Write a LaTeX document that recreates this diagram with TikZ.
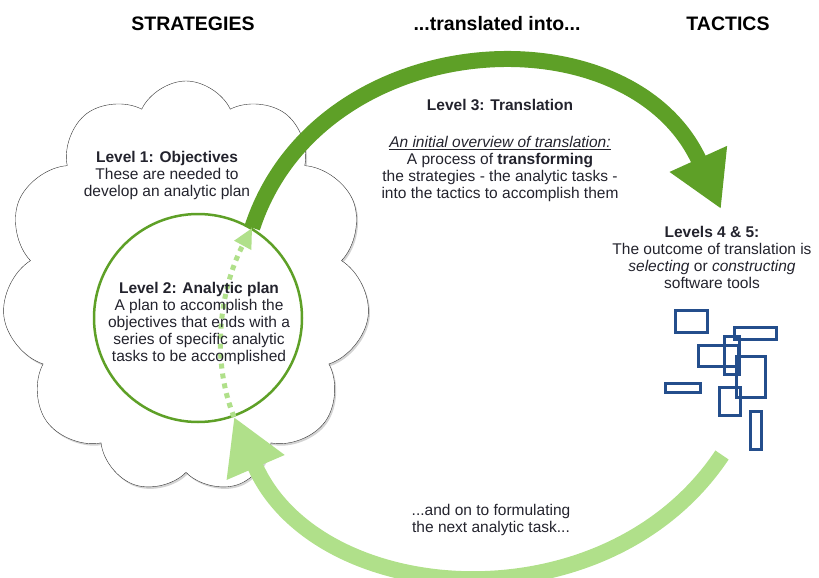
\documentclass[tikz,border=0pt]{standalone}
\usepackage{fontspec}
\setmainfont{Liberation Sans}
\usetikzlibrary{shapes.symbols,shadows,arrows.meta}

\definecolor{leafgreen}{RGB}{94,160,39}
\definecolor{palegreen}{RGB}{176,224,138}
\definecolor{toolblue}{RGB}{36,78,140}
\definecolor{inkgray}{RGB}{35,35,45}

\begin{document}
\begin{tikzpicture}[x=1pt,y=-1pt,
    heading/.style={font=\fontsize{19.5}{22}\selectfont\bfseries, anchor=base, inner sep=0pt},
    blurb/.style={font=\fontsize{15.5}{17}\selectfont, align=center, anchor=north,
      inner sep=0pt, text=inkgray},
    forward/.style={line width=16pt, leafgreen, -{Triangle[length=55pt,width=59pt]}},
    feedback/.style={line width=16pt, palegreen, -{Triangle[length=55pt,width=59pt]}},
    refine/.style={line width=5pt, palegreen, dash pattern=on 5pt off 5pt,
      -{Triangle[length=20pt,width=18pt]}}]
  \useasboundingbox (0,0) rectangle (819,578);

  % column headings
  \node[heading] (strategies) at (193,31) {STRATEGIES};
  \node[heading] (into) at (497,31) {...translated into...};
  \node[heading] (tactics) at (728,31) {TACTICS};

  % level 1 cloud, level 2 circle sits inside it
  \node[cloud, draw=black!80, fill=white, cloud puffs=11, cloud puff arc=130,
    aspect=0.86, minimum width=368pt, minimum height=412pt, inner sep=0pt,
    drop shadow={opacity=0.35, shadow xshift=1.5pt, shadow yshift=-2pt}]
    (objectives) at (186,287) {};
  \node[circle, draw=leafgreen, line width=2.5pt, minimum size=208pt, inner sep=0pt]
    (plan) at (198,318) {};

  % where the big arrows meet the tactics side
  \coordinate (tooltip) at (721,209);
  \coordinate (toolbase) at (722,455);

  \draw[refine] (plan.290) .. controls (208,352) and (224,280) .. (plan.59);
  \draw[forward] (plan.59) .. controls (319,24) and (630,8) .. (tooltip);
  \draw[feedback] (toolbase) .. controls (605,630) and (316,608) .. (plan.290);

  % software tools
  \foreach \xa/\ya/\xb/\yb in {675.5/310.5/707.5/332.5, 734.5/327.5/776.5/339.5,
      698.5/345.5/738.5/366.5, 724.5/336.5/739.5/374.5, 736.5/356.5/765.5/397.5,
      665.5/383.5/700.5/392.5, 719.5/387.5/740.5/415.5, 750.5/411.5/761.5/449.5}
    \draw[toolblue, line width=3pt] (\xa,\ya) rectangle (\xb,\yb);

  % texts
  \node[blurb] (level1) at (167,151.5)
    {\textbf{Level 1: Objectives}\\These are needed to\\develop an analytic plan};
  \node[blurb] (level2) at (199,282.5)
    {\textbf{Level 2: Analytic plan}\\A plan to accomplish the\\objectives that ends with a\\%
     series of specific analytic\\tasks to be accomplished};
  \node[blurb] (level3) at (500,99.5) {\textbf{Level 3: Translation}};
  \node[blurb] (overview) at (500,136.5)
    {\underline{\textit{An initial overview of translation:}}\\A process of \textbf{transforming}\\%
     the strategies - the analytic tasks -\\into the tactics to accomplish them};
  \node[blurb] (levels45) at (712,226.5)
    {\textbf{Levels 4 \& 5:}\\The outcome of translation is\\\textit{selecting} or \textit{constructing}\\%
     software tools};
  \node[blurb] (nexttask) at (491,504.5)
    {...and on to formulating\\the next analytic task...};
\end{tikzpicture}
\end{document}
